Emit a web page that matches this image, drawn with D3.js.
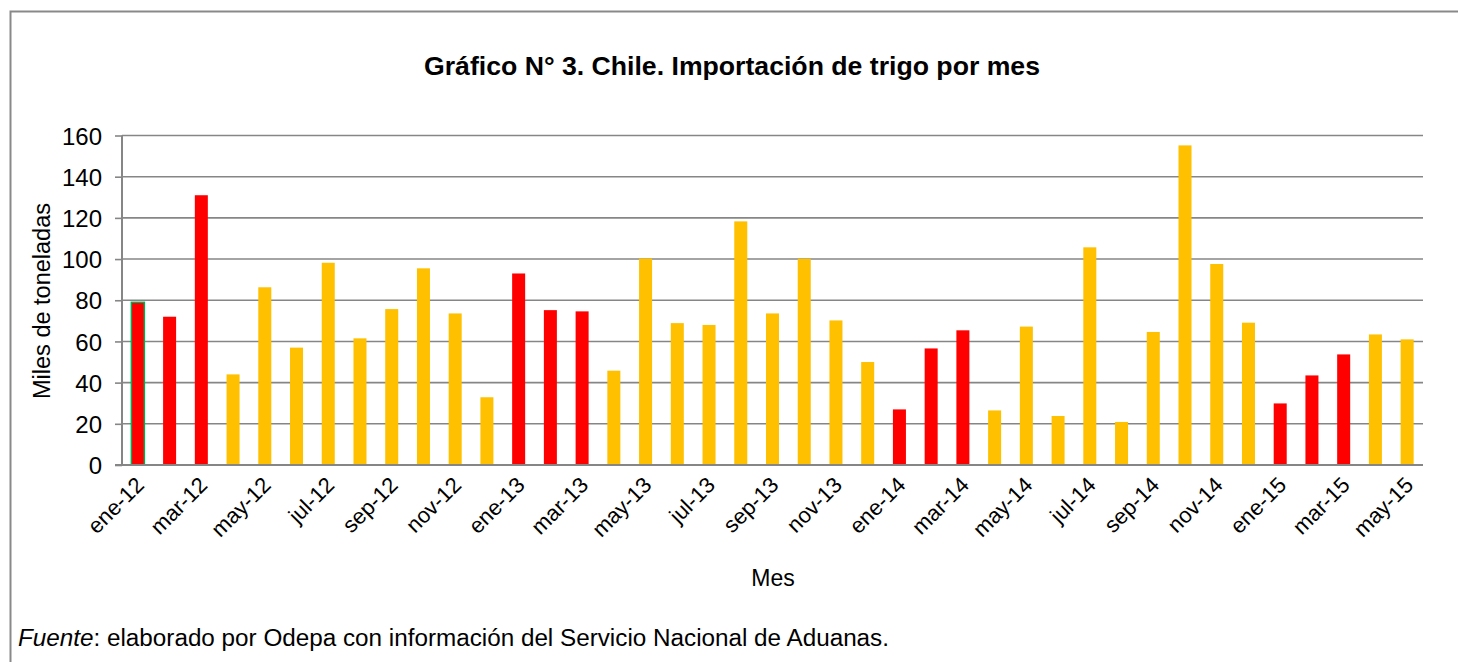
<!DOCTYPE html>
<html>
<head>
<meta charset="utf-8">
<script src="https://cdn.jsdelivr.net/npm/d3@7"></script>
<style>
  body { margin: 0; background: #fff; }
  text { font-family: "Liberation Sans", Arial, sans-serif; fill: #000; }
</style>
</head>
<body>
<script>
const width = 1458
const height = 662
const grid_color = "#868686"
const red_color = "#ff0000"
const orange_color = "#ffc000"

// months shown on the axis are every second one
const months = ["ene","feb","mar","abr","may","jun","jul","ago","sep","oct","nov","dic"]
const years = ["12","13","14","15"]
const categories = []
years.forEach(y => months.forEach(m => categories.push(m + "-" + y)))
categories.splice(41)

// miles de toneladas
const values = [79, 72, 131, 44, 86.3, 57, 98.2, 61.5, 75.7, 95.5, 73.6, 32.9,
                93, 75.2, 74.6, 45.8, 100.3, 68.9, 68, 118.3, 73.6, 100.2, 70.2, 50,
                27, 56.6, 65.4, 26.5, 67.2, 23.8, 105.7, 20.9, 64.6, 155.2, 97.6, 69.1,
                29.9, 43.5, 53.7, 63.4, 61]
const y_ticks = [0, 20, 40, 60, 80, 100, 120, 140, 160]

const data = categories.map((c, i) => ({ mes: c, value: values[i] }))

var svg = d3.select("body").append("svg")
            .attr("width", width)
            .attr("height", height);

// outer frame
svg.append("rect")
   .attr("x", 10.5)
   .attr("y", 11.5)
   .attr("width", width + 20)
   .attr("height", height + 20)
   .style("fill", "none")
   .style("stroke", "#898989")
   .style("stroke-width", 2);

const plot_left = 122, plot_right = 1423, plot_top = 135.5, plot_bottom = 465

var x = d3.scaleBand()
          .domain(categories)
          .range([plot_left, plot_right])
          .paddingInner(0.59)
          .paddingOuter(0.295);

var y = d3.scaleLinear()
          .domain([0, 160])
          .range([plot_bottom, plot_top]);

// gridlines
svg.append("g")
   .selectAll("line")
   .data(y_ticks.slice(1))
   .enter().append("line")
   .attr("x1", plot_left)
   .attr("x2", plot_right)
   .attr("y1", d => y(d))
   .attr("y2", d => y(d))
   .style("stroke", grid_color)
   .style("stroke-width", 1.6);

// bars
svg.append("g")
   .selectAll("rect")
   .data(data)
   .enter().append("rect")
   .attr("x", d => x(d.mes))
   .attr("y", d => y(d.value))
   .attr("width", x.bandwidth())
   .attr("height", d => y(0) - y(d.value))
   .style("fill", d => ["ene","feb","mar"].includes(d.mes.slice(0, 3)) ? red_color : orange_color)
   .style("stroke", (d, i) => i == 0 ? "#00b050" : "none")
   .style("stroke-width", 1.5);

// y axis
var yAxis = svg.append("g")
   .attr("transform", "translate(" + plot_left + ",0)")
   .call(d3.axisLeft(y).tickValues(y_ticks).tickSize(7).tickPadding(13));
yAxis.selectAll("line").style("stroke", grid_color).style("stroke-width", 1.6);
yAxis.select(".domain").style("stroke", grid_color).style("stroke-width", 2).attr("d", "M0," + plot_top + "V" + plot_bottom);
yAxis.selectAll("text").style("font-size", "24px").style("font-family", "Liberation Sans, Arial, sans-serif").attr("dy", "0.36em");

// x axis line
svg.append("line")
   .attr("x1", plot_left - 7)
   .attr("x2", plot_right)
   .attr("y1", plot_bottom)
   .attr("y2", plot_bottom)
   .style("stroke", grid_color)
   .style("stroke-width", 2);

// x labels, every second month
svg.append("g")
   .selectAll("text")
   .data(categories.filter((c, i) => i % 2 == 0))
   .enter().append("text")
   .attr("transform", d => "translate(" + (x(d) + x.bandwidth() / 2 + 2) + "," + (plot_bottom + 16) + ") rotate(-45)")
   .attr("text-anchor", "end")
   .attr("dy", "0.35em")
   .style("font-size", "22px")
   .text(d => d);

// titles
svg.append("text")
   .attr("x", 732)
   .attr("y", 75)
   .attr("text-anchor", "middle")
   .attr("textLength", 616)
   .attr("lengthAdjust", "spacingAndGlyphs")
   .style("font-size", "25px")
   .style("font-weight", "bold")
   .text("Gráfico N° 3. Chile. Importación de trigo por mes");

svg.append("text")
   .attr("transform", "translate(50,301) rotate(-90)")
   .attr("text-anchor", "middle")
   .style("font-size", "23.5px")
   .text("Miles de toneladas");

svg.append("text")
   .attr("x", 773)
   .attr("y", 586)
   .attr("text-anchor", "middle")
   .style("font-size", "23px")
   .text("Mes");

var foot = svg.append("text")
   .attr("x", 18)
   .attr("y", 646)
   .attr("textLength", 871)
   .attr("lengthAdjust", "spacingAndGlyphs")
   .style("font-size", "23px");
foot.append("tspan").style("font-style", "italic").text("Fuente");
foot.append("tspan").text(": elaborado por Odepa con información del Servicio Nacional de Aduanas.");
</script>
</body>
</html>
